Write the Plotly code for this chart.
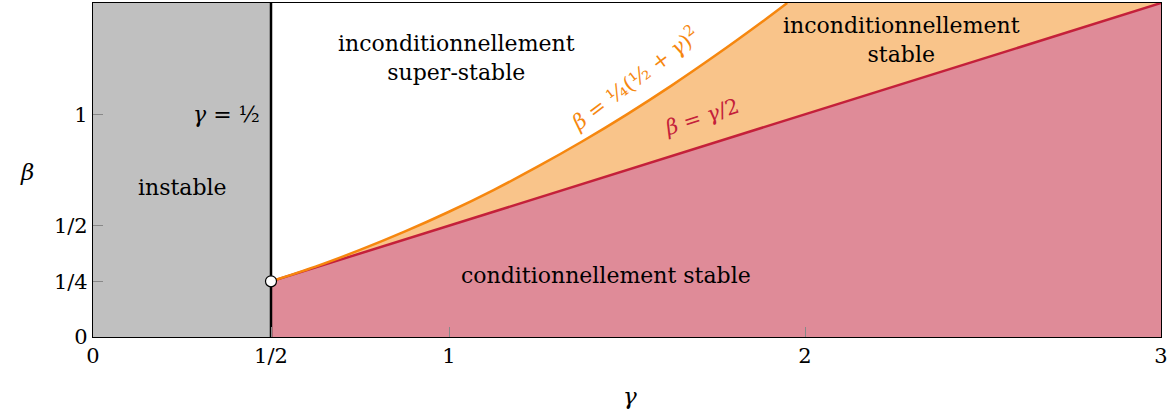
import plotly.graph_objects as go

# values
gamma_ticks = [0, 0.5, 1, 2, 3]
gamma_ticktext = ["0", "1/2", "1", "2", "3"]
beta_ticks = [0, 0.25, 0.5, 1]
beta_ticktext = ["0", "1/4", "1/2", "1"]

gamma_max = 3
beta_max = 1.5
gamma_crit = 0.5
beta_crit = 0.25

# beta = 1/4 (1/2 + gamma)^2
curve_gamma = [0.5, 0.625, 0.75, 0.875, 1.0, 1.125, 1.25, 1.375, 1.5, 1.625, 1.75, 1.875, 1.95]
curve_beta = [0.25, 0.316, 0.391, 0.473, 0.5625, 0.660, 0.766, 0.879, 1.0, 1.129, 1.266, 1.410, 1.5]

# beta = gamma / 2
line_gamma = [0.5, 3]
line_beta = [0.25, 1.5]

GRAY = "#c0c0c0"
RED = "#c4203a"
RED_FILL = "#df8b98"
ORANGE = "#f6870f"
ORANGE_FILL = "#f9c48a"
FONT = "DejaVu Serif, serif"

fig = go.Figure()

# unstable zone
fig.add_trace(go.Scatter(
    x=[0, gamma_crit, gamma_crit, 0, 0],
    y=[0, 0, beta_max, beta_max, 0],
    fill="toself", fillcolor=GRAY, line=dict(width=0), mode="lines",
    hoverinfo="skip"))

# conditionally stable zone
fig.add_trace(go.Scatter(
    x=line_gamma + [gamma_max, gamma_crit],
    y=line_beta + [0, 0],
    fill="toself", fillcolor=RED_FILL, line=dict(width=0), mode="lines",
    hoverinfo="skip"))

# unconditionally stable zone
fig.add_trace(go.Scatter(
    x=curve_gamma + line_gamma[::-1],
    y=curve_beta + line_beta[::-1],
    fill="toself", fillcolor=ORANGE_FILL, line=dict(width=0), mode="lines",
    hoverinfo="skip"))

fig.add_trace(go.Scatter(x=line_gamma, y=line_beta, mode="lines",
                         line=dict(color=RED, width=2.5)))
fig.add_trace(go.Scatter(x=curve_gamma, y=curve_beta, mode="lines",
                         line=dict(color=ORANGE, width=2.5, shape="spline")))

# gamma = 1/2 boundary
fig.add_trace(go.Scatter(x=[gamma_crit, gamma_crit], y=[0, beta_max], mode="lines",
                         line=dict(color="black", width=2.5)))
fig.add_trace(go.Scatter(x=[gamma_crit], y=[beta_crit], mode="markers",
                         marker=dict(color="white", size=11,
                                     line=dict(color="black", width=1.2))))

txt = dict(family=FONT, size=22, color="black")
annots = [
    dict(x=0.25, y=0.67, text="instable"),
    dict(x=0.475, y=1.0, text="<i>γ</i> = ½", xanchor="right"),
    dict(x=1.02, y=1.255, text="inconditionnellement<br>super-stable"),
    dict(x=2.27, y=1.335, text="inconditionnellement<br>stable"),
    dict(x=1.44, y=0.275, text="conditionnellement stable"),
]
for a in annots:
    fig.add_annotation(showarrow=False, font=txt, xref="x", yref="y", **a)

fig.add_annotation(x=1.52, y=1.165, text="<i>β</i> = ¼(½ + <i>γ</i>)<sup>2</sup>",
                   textangle=-37, showarrow=False,
                   font=dict(family=FONT, size=21, color=ORANGE))
fig.add_annotation(x=1.71, y=0.99, text="<i>β</i> = <i>γ</i>/2",
                   textangle=-18, showarrow=False,
                   font=dict(family=FONT, size=21, color=RED))

fig.add_annotation(x=(18 - 93) / 1068, y=(337 - 172) / 334, xref="paper", yref="paper",
                   text="<i>β</i>", showarrow=False,
                   font=dict(family=FONT, size=23, color="black"))
fig.add_annotation(x=(630 - 93) / 1068, y=(337 - 411) / 334, xref="paper", yref="paper",
                   text="<i>γ</i>", showarrow=False,
                   font=dict(family=FONT, size=23, color="black"))

axis = dict(showgrid=False, zeroline=False, ticks="inside", ticklen=10,
            tickcolor="#888888", tickwidth=1, showline=True, linecolor="black",
            linewidth=1.2, mirror=True, automargin=False, ticklabeloverflow="allow",
            tickfont=dict(family=FONT, size=21, color="black"))

fig.update_layout(
    width=1171, height=414,
    margin=dict(l=93, r=10, t=3, b=77),
    plot_bgcolor="white", paper_bgcolor="white",
    showlegend=False,
    xaxis=dict(range=[0, gamma_max], tickvals=gamma_ticks, ticktext=gamma_ticktext, **axis),
    yaxis=dict(range=[0, beta_max], tickvals=beta_ticks, ticktext=beta_ticktext, **axis),
)

fig.write_html("out.html", config={"displayModeBar": False},
               post_script="document.body.style.margin='0';")
